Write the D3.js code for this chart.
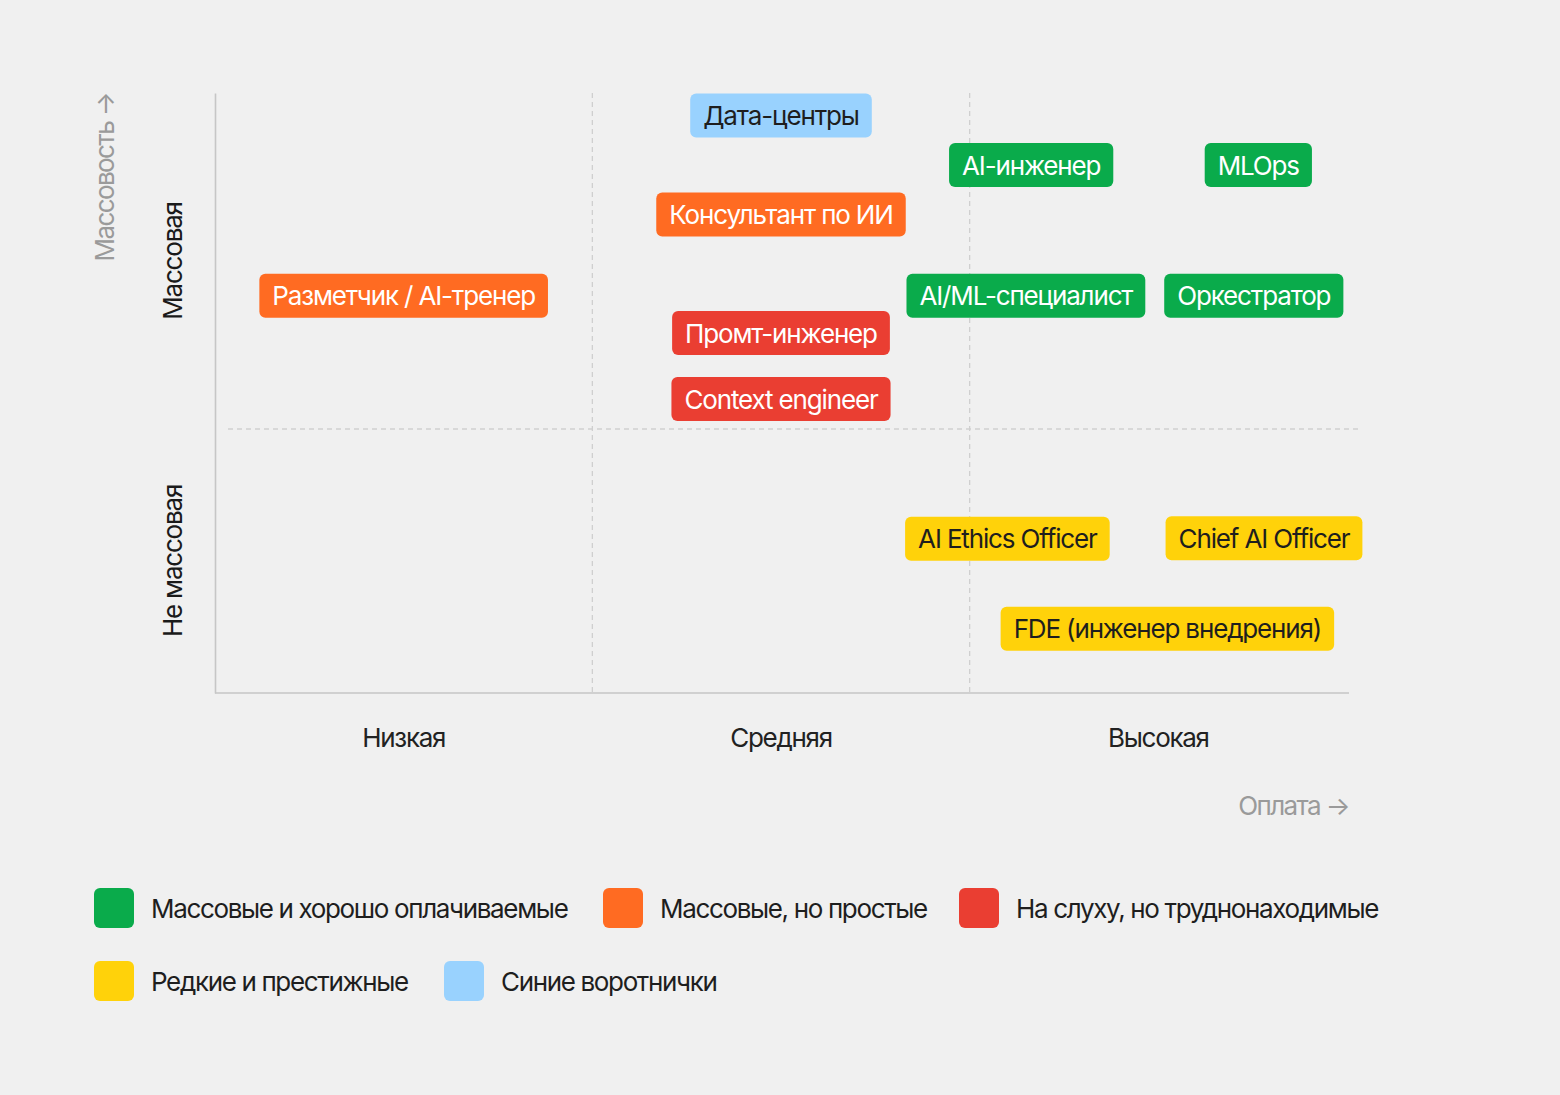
<!DOCTYPE html>
<html><head><meta charset="utf-8">
<script src="https://cdn.jsdelivr.net/npm/d3@7"></script>
<style>html,body{margin:0;background:#f0f0f0}svg{display:block}text{font-family:Inter,"Noto Sans",sans-serif}</style>
</head><body><svg id="c" width="1560" height="1095"></svg>
<script>
// ---- data ----
const payLevels = ["Низкая", "Средняя", "Высокая"];
const massLevels = ["Не массовая", "Массовая"];
const massBounds = [0, 44, 100];
const groupNames = ["Массовые и хорошо оплачиваемые", "Массовые, но простые", "На слуху, но труднонаходимые", "Редкие и престижные", "Синие воротнички"];
const groupColors = ["#0aab4b", "#ff6b22", "#ea3e32", "#ffd20a", "#99d2fe"];
const groupTextColors = ["#ffffff", "#ffffff", "#ffffff", "#1e1e1e", "#1e1e1e"];
const roleNames = ["Дата-центры", "AI-инженер", "MLOps", "Консультант по ИИ", "Разметчик / AI-тренер", "AI/ML-специалист", "Оркестратор", "Промт-инженер", "Context engineer", "AI Ethics Officer", "Chief AI Officer", "FDE (инженер внедрения)"];
const roleGroup = [4, 0, 0, 1, 1, 0, 0, 2, 2, 3, 3, 3];
const rolePay = [1.5, 2.163, 2.765, 1.5, 0.5, 2.149, 2.753, 1.5, 1.5, 2.1, 2.78, 2.524];
const roleMass = [96.25, 88, 88, 79.75, 66.2, 66.2, 66.2, 60, 49, 25.7, 25.8, 10.7];
const xTitle = "Оплата →";
const yTitle = "Массовость →";

// ---- layout ----
const svg = d3.select("#c");
const L = 215, R = 1347, T = 93, B = 693;
const x = d3.scaleLinear().domain([0, 3]).range([L, R]);
const xBand = d3.scaleBand().domain(payLevels).range([L, R]);
const y = d3.scaleLinear().domain([0, 100]).range([B, T]);
const color = d3.scaleOrdinal().domain(d3.range(groupNames.length)).range(groupColors);
const tcolor = d3.scaleOrdinal().domain(d3.range(groupNames.length)).range(groupTextColors);

svg.append("rect").attr("width", 1560).attr("height", 1095).attr("fill", "#f0f0f0");

// dashed grid lines
const grid = svg.append("g").attr("stroke", "#cfcfcf").attr("stroke-width", 1.3).attr("stroke-dasharray", "5,4");
[1, 2].forEach(v => grid.append("line").attr("x1", x(v)).attr("x2", x(v)).attr("y1", T).attr("y2", B));
grid.append("line").attr("x1", L + 13).attr("x2", R + 15).attr("y1", y(massBounds[1])).attr("y2", y(massBounds[1]));

// x axis
const xa = svg.append("g").attr("transform", `translate(0,${B})`)
  .call(d3.axisBottom(xBand).tickSizeInner(0).tickSizeOuter(0).tickPadding(36));
xa.select(".domain").attr("stroke", "#c6c6c6").attr("stroke-width", 1.6).attr("d", `M${L},0H${R + 2}`);
xa.selectAll("text").attr("font-size", 26).attr("fill", "#222").attr("font-family", "Inter").attr("letter-spacing", -1.3);

// y axis line
const ya = svg.append("g").attr("transform", `translate(${L},0)`)
  .call(d3.axisLeft(y).ticks(0).tickSizeOuter(0));
ya.select(".domain").attr("stroke", "#c6c6c6").attr("stroke-width", 1.6);

// y band labels
massLevels.forEach((m, i) => {
  const cy = y((massBounds[i] + massBounds[i + 1]) / 2);
  svg.append("text").attr("transform", `translate(172,${cy}) rotate(-90)`)
    .attr("text-anchor", "middle").attr("dominant-baseline", "central")
    .attr("font-size", 26).attr("fill", "#1a1a1a").attr("letter-spacing", -1.2).text(m);
});

// axis titles
svg.append("text").attr("transform", `translate(104,${T}) rotate(-90)`)
  .attr("text-anchor", "end").attr("dominant-baseline", "central")
  .attr("font-size", 26).attr("fill", "#9a9a9a").attr("letter-spacing", -1.6).text(yTitle);
svg.append("text").attr("x", R + 2).attr("y", 805).attr("text-anchor", "end").attr("dominant-baseline", "central")
  .attr("font-size", 26).attr("fill", "#9a9a9a").attr("letter-spacing", -1.6).text(xTitle);

// role tags
const roles = roleNames.map((n, i) => ({ n, g: roleGroup[i], px: rolePay[i], py: roleMass[i] }));
const tags = svg.append("g").selectAll("g").data(roles).join("g")
  .attr("transform", d => `translate(${x(d.px)},${y(d.py)})`);
tags.append("text").attr("text-anchor", "middle").attr("dominant-baseline", "central")
  .attr("font-size", 26).attr("letter-spacing", -1.15).attr("fill", d => tcolor(d.g)).text(d => d.n)
  .each(function (d) { d.w = this.getComputedTextLength(); });
tags.insert("rect", "text").attr("x", d => -d.w / 2 - 13).attr("y", -22)
  .attr("width", d => d.w + 26).attr("height", 44).attr("rx", 6).attr("fill", d => color(d.g));

// legend
const legendPos = [[94, 908], [603, 908], [959, 908], [94, 981], [444, 981]];
const lg = svg.append("g").selectAll("g").data(groupNames.map((n, i) => ({ n, i }))).join("g")
  .attr("transform", d => `translate(${legendPos[d.i][0]},${legendPos[d.i][1]})`);
lg.append("rect").attr("x", 0).attr("y", -20).attr("width", 40).attr("height", 40).attr("rx", 6).attr("fill", d => color(d.i));
lg.append("text").attr("x", 57).attr("dominant-baseline", "central").attr("font-size", 26)
  .attr("letter-spacing", -1.35).attr("fill", "#1e1e1e").text(d => d.n);
</script></body></html>
